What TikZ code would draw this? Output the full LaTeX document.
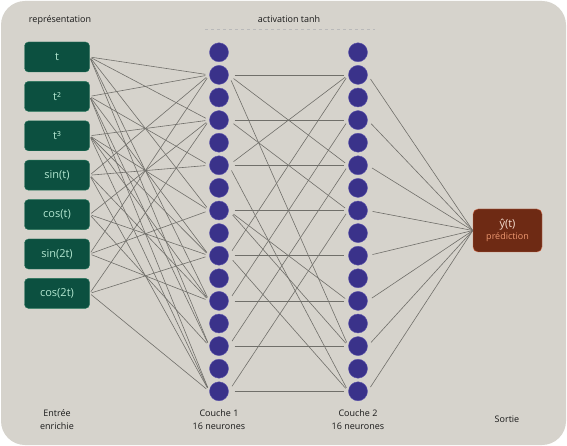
\documentclass[tikz,border=0pt]{standalone}
\usepackage{fontspec}
\setmainfont{Open Sans}
\usetikzlibrary{positioning}
\definecolor{colbg}{RGB}{214,211,204}
\definecolor{colfeat}{RGB}{12,80,64}
\definecolor{colfeatdraw}{RGB}{40,118,92}
\definecolor{colfeattxt}{RGB}{178,230,208}
\definecolor{colneur}{RGB}{58,50,138}
\definecolor{colneurdraw}{RGB}{92,84,172}
\definecolor{colout}{RGB}{110,42,20}
\definecolor{coloutdraw}{RGB}{212,112,80}
\definecolor{colouttxt}{RGB}{246,222,208}
\definecolor{coloutsub}{RGB}{238,152,112}
\definecolor{colwire}{RGB}{112,111,106}
\definecolor{coltxt}{RGB}{25,25,25}

\begin{document}
\begin{tikzpicture}[
  x=1pt, y=-1pt,
  feat/.style={rectangle, rounded corners=4pt, draw=colfeatdraw, fill=colfeat,
               minimum width=65pt, minimum height=30pt, inner sep=0pt,
               text=colfeattxt, font=\fontsize{11}{13}\selectfont},
  neuron/.style={circle, draw=colneurdraw, fill=colneur, minimum size=19pt,
                 inner sep=0pt},
  outbox/.style={rectangle, rounded corners=5pt, draw=coloutdraw, fill=colout,
                 minimum width=69pt, minimum height=43pt, inner sep=0pt,
                 align=center, text=colouttxt, font=\fontsize{11}{13}\selectfont},
  wire/.style={colwire, line width=0.6pt},
  captxt/.style={font=\fontsize{9}{13}\selectfont, text=coltxt, align=center},
  node distance=9pt
]
% background panel
\fill[white] (0,0) rectangle (567,446);
\fill[colbg, rounded corners=24pt] (1,1) rectangle (566,445);

% Input features
\node[feat] (x1) at (57,57) {t};
\node[feat, below=of x1] (x2) {t²};
\node[feat, below=of x2] (x3) {t³};
\node[feat, below=of x3] (x4) {sin(t)};
\node[feat, below=of x4] (x5) {cos(t)};
\node[feat, below=of x5] (x6) {sin(2t)};
\node[feat, below=of x6] (x7) {cos(2t)};

% Hidden layers (16 neurons each)
\foreach \k in {1,...,16} {
  \node[neuron] (a\k) at (219, 52.3+22.6*\k-22.6) {};
  \node[neuron] (b\k) at (358, 52.3+22.6*\k-22.6) {};
}

% Output
\node[outbox] (yhat) at (507.5,230.5)
  {ŷ(t)\\[-1pt]{\fontsize{9}{11}\selectfont\color{coloutsub}prédiction}};

% Input -> layer 1
\foreach \i/\j in {1/2, 1/4, 1/8, 1/12, 1/14,
                   2/2, 2/6, 2/10, 2/14, 2/16,
                   3/4, 3/8, 3/10, 3/12, 3/16,
                   4/2, 4/6, 4/12, 4/16,
                   5/4, 5/10, 5/14,
                   6/2, 6/8, 6/12,
                   7/4, 7/10, 7/16}
  \draw[wire, shorten <=2pt, shorten >=4pt] (x\i.east) -- (a\j.west);

% Layer 1 -> layer 2
\foreach \i/\j in {2/2, 2/6, 2/14, 4/4, 4/8, 6/2, 6/6, 6/16,
                   8/8, 8/12, 8/14, 10/2, 10/10, 10/16, 12/4, 12/12,
                   14/6, 14/14, 16/8, 16/16}
  \draw[wire, shorten <=6pt, shorten >=4pt] (a\i.east) -- (b\j.west);

% Layer 2 -> output
\foreach \j in {2,4,...,16}
  \draw[wire, shorten <=5pt] (b\j.east) -- (yhat.west);

% Captions
\node[captxt] (capin) at (60,20) {représentation};
\node[captxt] (capact) at (289,19) {activation tanh};
\draw[gray!55, dashed, line width=0.5pt] (205,29) -- (375,29);
\node[captxt] (lblin) at (57,420) {Entrée\\enrichie};
\node[captxt] (lbla) at (219,420) {Couche 1\\16 neurones};
\node[captxt] (lblb) at (358,420) {Couche 2\\16 neurones};
\node[captxt] (lblout) at (507,419) {Sortie};
\end{tikzpicture}
\end{document}
